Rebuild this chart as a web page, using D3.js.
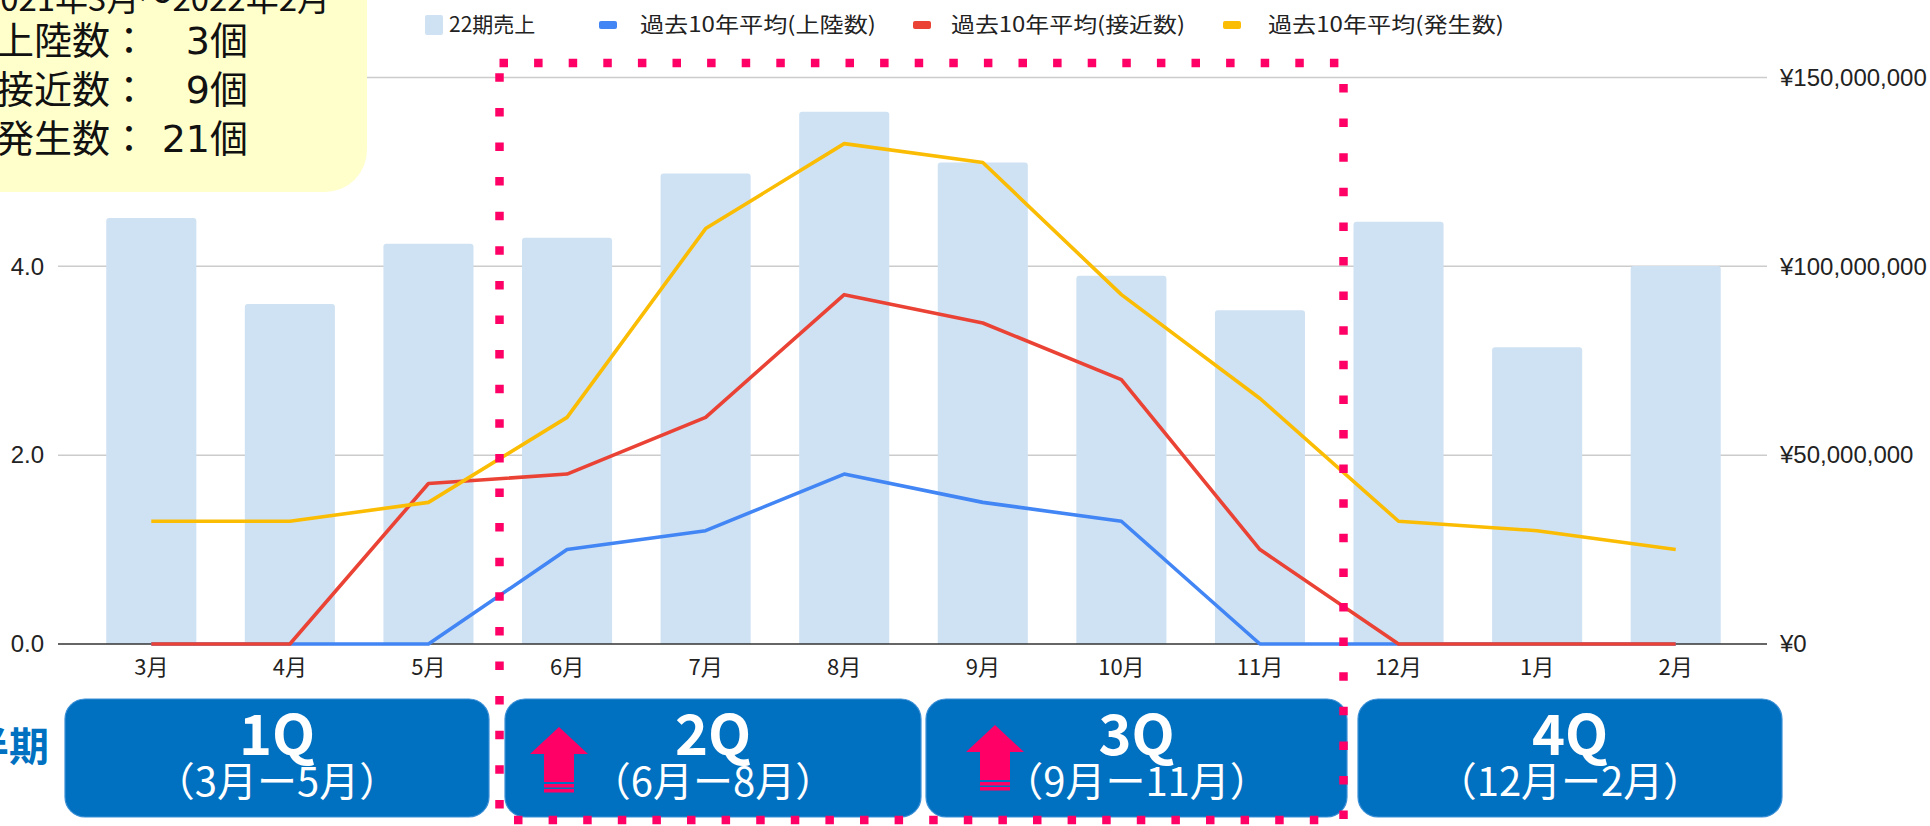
<!DOCTYPE html>
<html><head><meta charset="utf-8">
<script src="https://cdn.jsdelivr.net/npm/d3@7"></script>
<style>
html,body{margin:0;padding:0;background:#fff;overflow:hidden}
svg{display:block}
</style>
</head><body>
<svg id="chart" width="1930" height="826"></svg>
<script>
// ---- data ----
const months = ["3月","4月","5月","6月","7月","8月","9月","10月","11月","12月","1月","2月"];
const sales = [112.8e6, 90.0e6, 106.0e6, 107.6e6, 124.6e6, 140.9e6, 127.5e6, 97.5e6, 88.4e6, 111.8e6, 78.6e6, 100.1e6];
const landfall  = [0, 0, 0, 1.0, 1.2, 1.8, 1.5, 1.3, 0, 0, 0, 0];
const approach  = [0, 0, 1.7, 1.8, 2.4, 3.7, 3.4, 2.8, 1.0, 0, 0, 0];
const formation = [1.3, 1.3, 1.5, 2.4, 4.4, 5.3, 5.1, 3.7, 2.6, 1.3, 1.2, 1.0];
const leftTicks = [0, 2, 4, 6];
const rightTicks = [0, 50e6, 100e6, 150e6];
const legendLabels = ["22期売上", "過去10年平均(上陸数)", "過去10年平均(接近数)", "過去10年平均(発生数)"];
const quarterNames = ["1Q", "2Q", "3Q", "4Q"];
const quarterRanges = ["（3月ー5月）", "（6月ー8月）", "（9月ー11月）", "（12月ー2月）"];
const summaryPeriod = "2021年3月〜2022年2月";
const summaryLabels = ["上陸数：", "接近数：", "発生数："];
const summaryCounts = ["3個", "9個", "21個"];

// ---- chart ----
const svg = d3.select("#chart");
const C = { bar: "#cfe2f3", blue: "#4285f4", red: "#ea4335", yellow: "#fbbc04",
            pink: "#ff0066", navy: "#0070c0", grid: "#cccccc", axis: "#333333", text: "#222222" };
const numFont = "'Liberation Sans', Arial, 'Noto Sans CJK JP', sans-serif";
const cjkFont = "'Noto Sans CJK JP', 'Noto Sans', sans-serif";

const plot = { left: 82, right: 1745, top: 77.5, bottom: 644, gridL: 58, gridR: 1767 };

const x = d3.scaleBand().domain(months).range([plot.left, plot.right])
  .paddingInner(0.35).paddingOuter(0.175);
const yL = d3.scaleLinear().domain([0, 6]).range([plot.bottom, plot.top]);
const yR = d3.scaleLinear().domain([0, 150e6]).range([plot.bottom, plot.top]);

// gridlines
svg.append("g").selectAll("line").data(rightTicks.slice(1)).join("line")
  .attr("x1", plot.gridL).attr("x2", plot.gridR)
  .attr("y1", d => yR(d)).attr("y2", d => yR(d))
  .attr("stroke", C.grid).attr("stroke-width", 1.5);

// bars with softly rounded tops
const r = 3;
svg.append("g").selectAll("path").data(sales).join("path")
  .attr("fill", C.bar)
  .attr("d", (d, i) => {
    const x0 = x(months[i]), w = x.bandwidth(), y0 = yR(d), yb = yR(0);
    return `M${x0},${yb}V${y0 + r}Q${x0},${y0} ${x0 + r},${y0}H${x0 + w - r}Q${x0 + w},${y0} ${x0 + w},${y0 + r}V${yb}Z`;
  });

// baseline
svg.append("line").attr("x1", plot.gridL).attr("x2", plot.gridR)
  .attr("y1", yR(0)).attr("y2", yR(0)).attr("stroke", C.axis).attr("stroke-width", 1.6);

// left axis
const leftAxis = d3.axisLeft(yL).tickValues(leftTicks).tickFormat(d3.format(".1f")).tickSize(0).tickPadding(0);
const gL = svg.append("g").attr("transform", "translate(44,0)").call(leftAxis);
gL.select(".domain").remove();
gL.selectAll("text").attr("font-family", numFont).attr("font-size", 24).attr("fill", C.text);

// right axis
const rightAxis = d3.axisRight(yR).tickValues(rightTicks)
  .tickFormat(d => "¥" + d3.format(",")(d)).tickSize(0).tickPadding(0);
const gR = svg.append("g").attr("transform", "translate(1780,0)").call(rightAxis);
gR.select(".domain").remove();
gR.selectAll("text").attr("font-family", numFont).attr("font-size", 24).attr("fill", C.text);

// bottom axis labels
const bottomAxis = d3.axisBottom(x).tickSize(0).tickPadding(0);
const gB = svg.append("g").attr("transform", `translate(0,${plot.bottom + 15})`).call(bottomAxis);
gB.select(".domain").remove();
gB.selectAll("text").attr("font-family", cjkFont).attr("font-size", 22).attr("fill", C.text);

// lines
const line = d3.line().x((d, i) => x(months[i]) + x.bandwidth() / 2).y(d => yL(d));
[[landfall, C.blue], [approach, C.red], [formation, C.yellow]].forEach(([vals, col]) => {
  svg.append("path").datum(vals).attr("d", line).attr("fill", "none")
    .attr("stroke", col).attr("stroke-width", 3.6).attr("stroke-linejoin", "round");
});

// legend
const legendPos = [{ m: 425, t: 449, w: null }, { m: 599, t: 640, w: 236 }, { m: 913, t: 951, w: 234 }, { m: 1223, t: 1268, w: 236 }];
const legendColors = [C.bar, C.blue, C.red, C.yellow];
const lg = svg.append("g");
legendLabels.forEach((lab, i) => {
  const p = legendPos[i];
  if (i === 0) {
    lg.append("rect").attr("x", p.m).attr("y", 15).attr("width", 18).attr("height", 20)
      .attr("rx", 2).attr("fill", legendColors[i]);
  } else {
    lg.append("rect").attr("x", p.m).attr("y", 21).attr("width", 18).attr("height", 8)
      .attr("rx", 2).attr("fill", legendColors[i]);
  }
  const t = lg.append("text").attr("x", p.t).attr("y", 25).attr("dy", "0.35em")
    .attr("font-family", cjkFont).attr("font-size", 21).attr("fill", C.text).text(lab);
  if (p.w) t.attr("textLength", p.w).attr("lengthAdjust", "spacingAndGlyphs");
});

// summary note
svg.append("rect").attr("x", -60).attr("y", -60).attr("width", 427).attr("height", 252)
  .attr("rx", 42).attr("fill", "#ffffcc");
svg.append("text").attr("x", 330).attr("y", 11).attr("text-anchor", "end")
  .attr("font-family", cjkFont).attr("font-size", 33).attr("fill", "#111").text(summaryPeriod);
summaryLabels.forEach((lab, i) => {
  const yy = 40 + i * 49;
  svg.append("text").attr("x", -4).attr("y", yy).attr("dy", "0.36em")
    .attr("font-family", cjkFont).attr("font-size", 38).attr("fill", "#111").text(lab);
  svg.append("text").attr("x", 248).attr("y", yy).attr("dy", "0.36em").attr("text-anchor", "end")
    .attr("font-family", "'DejaVu Sans', 'Noto Sans CJK JP', sans-serif")
    .attr("font-size", 38).attr("fill", "#111").text(summaryCounts[i]);
});

// quarter boxes
const qBox = [[65, 489], [505, 921], [926, 1347], [1358, 1782]];
const qg = svg.append("g");
quarterNames.forEach((q, i) => {
  const [a, b] = qBox[i], cx = (a + b) / 2;
  qg.append("rect").attr("x", a).attr("y", 699).attr("width", b - a).attr("height", 118)
    .attr("rx", 20).attr("fill", C.navy).attr("stroke", "#3b8fd6").attr("stroke-width", 1.2);
  qg.append("text").attr("x", cx).attr("y", 735).attr("dy", "0.36em").attr("text-anchor", "middle")
    .attr("font-family", cjkFont).attr("font-weight", 700).attr("font-size", 56).attr("fill", "#fff").text(q);
  qg.append("text").attr("x", cx).attr("y", 782).attr("dy", "0.36em").attr("text-anchor", "middle")
    .attr("font-family", cjkFont).attr("font-size", 40).attr("fill", "#fff").text(quarterRanges[i]);
});

// row label at the left edge
svg.append("text").attr("x", 49).attr("y", 747).attr("dy", "0.36em").attr("text-anchor", "end")
  .attr("font-family", cjkFont).attr("font-weight", 700).attr("font-size", 40)
  .attr("fill", C.navy).text("四半期");

// up arrows for the peak quarters
[[559, 727], [995, 725]].forEach(([cx, ty]) => {
  const g = svg.append("g").attr("fill", C.pink);
  g.append("path").attr("d",
    `M${cx},${ty}L${cx + 29},${ty + 27}H${cx + 15}V${ty + 55}H${cx - 15}V${ty + 27}H${cx - 29}Z`);
  g.append("rect").attr("x", cx - 15).attr("y", ty + 57).attr("width", 30).attr("height", 3.5);
  g.append("rect").attr("x", cx - 15).attr("y", ty + 62).attr("width", 30).attr("height", 3.5);
});

// dotted frame around the typhoon season
svg.append("rect").attr("x", 499.5).attr("y", 63).attr("width", 1343.5 - 499.5).attr("height", 820 - 63)
  .attr("fill", "none").attr("stroke", C.pink).attr("stroke-width", 8.5)
  .attr("stroke-dasharray", "8.5,26.1");
</script>
</body></html>
